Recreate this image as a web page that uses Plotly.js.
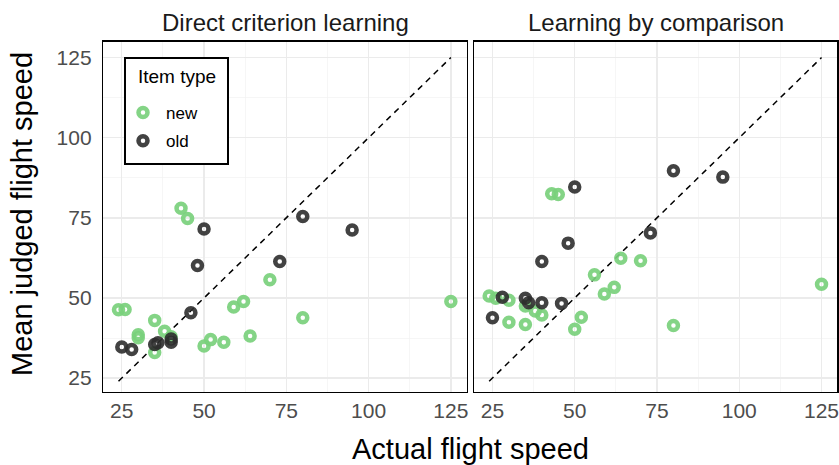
<!DOCTYPE html>
<html>
<head>
<meta charset="utf-8">
<script src="https://cdn.plot.ly/plotly-3.0.1.min.js"></script>
<style>html,body{margin:0;padding:0;background:#fff;}#chart{width:839px;height:465px;}</style>
</head>
<body>
<div id="chart"></div>
<script>
// Panel titles
var panels = ["Direct criterion learning", "Learning by comparison"];
var legendTitle = "Item type";
var tickVals = [25, 50, 75, 100, 125];
var tickText = ["25", "50", "75", "100", "125"];
var refLine = [24, 125];

// Direct criterion learning
var directNewX = [24, 26, 30, 30, 35, 35, 38, 40, 43, 45, 50, 52, 56, 59, 62, 64, 70, 80, 125];
var directNewY = [46.3, 46.4, 38.5, 37.6, 43.0, 33.0, 39.6, 37.9, 78.0, 74.8, 35.0, 37.0, 36.2, 47.2, 48.9, 38.1, 55.7, 43.8, 48.9];
var directOldX = [25, 28, 35, 36, 40, 40, 46, 48, 50, 73, 80, 95];
var directOldY = [34.7, 33.9, 35.5, 36.0, 37.2, 36.2, 45.4, 60.1, 71.5, 61.4, 75.4, 71.2];

// Learning by comparison
var compNewX = [24, 26, 30, 30, 35, 35, 38, 40, 43, 45, 50, 52, 56, 59, 62, 64, 70, 80, 125];
var compNewY = [50.6, 49.9, 49.3, 42.4, 47.5, 41.7, 45.9, 44.7, 82.5, 82.3, 40.2, 44.0, 57.2, 51.2, 53.3, 62.4, 61.6, 41.4, 54.3];
var compOldX = [25, 28, 35, 36, 40, 40, 46, 48, 50, 73, 80, 95];
var compOldY = [43.8, 50.2, 49.9, 48.5, 48.5, 61.4, 48.3, 67.1, 84.6, 70.3, 89.7, 87.7];

var greenCol = "rgba(122,208,124,0.92)";
var darkCol = "rgba(45,45,45,0.9)";

function pts(x, y, name, col, xa, ya, show) {
  return {x: x, y: y, type: "scatter", mode: "markers", name: name,
    xaxis: xa, yaxis: ya, showlegend: show, legendgroup: name,
    marker: {symbol: "circle-open", size: 9, color: col, line: {width: 4.5, color: col}},
    hoverinfo: "x+y"};
}
function line(xa, ya) {
  return {x: refLine, y: refLine, type: "scatter", mode: "lines", xaxis: xa, yaxis: ya,
    showlegend: false, line: {color: "#000", width: 1.5, dash: "6px,5px"}, hoverinfo: "skip"};
}

var data = [
  line("x", "y"), line("x2", "y2"),
  pts(directNewX, directNewY, "new", greenCol, "x", "y", true),
  pts(directOldX, directOldY, "old", darkCol, "x", "y", true),
  pts(compNewX, compNewY, "new", greenCol, "x2", "y2", false),
  pts(compOldX, compOldY, "old", darkCol, "x2", "y2", false)
];

var font = "Liberation Sans, Arial, sans-serif";
function xax(dom, anchor) {
  return {domain: dom, range: [19.4, 129.8], anchor: anchor, tickvals: tickVals, ticktext: tickText,
    showgrid: true, gridcolor: "#ebebeb", gridwidth: 1.4, zeroline: false, ticklabeloverflow: "allow",
    minor: {tickvals: [37.5, 62.5, 87.5, 112.5], showgrid: true, gridcolor: "#f2f2f2", gridwidth: 0.7},
    ticks: "", tickfont: {family: font, size: 21, color: "#4d4d4d"},
    showline: true, mirror: true, linecolor: "#000", linewidth: 1.5};
}
function yax(anchor, showlabels) {
  return {domain: [0.158, 0.910], range: [20.8, 129.9], anchor: anchor, tickvals: tickVals, ticktext: tickText,
    showticklabels: showlabels, ticklabelstandoff: 6,
    showgrid: true, gridcolor: "#ebebeb", gridwidth: 1.4, zeroline: false,
    minor: {tickvals: [37.5, 62.5, 87.5, 112.5], showgrid: true, gridcolor: "#f2f2f2", gridwidth: 0.7},
    ticks: "", tickfont: {family: font, size: 21, color: "#4d4d4d"},
    showline: true, mirror: true, linecolor: "#000", linewidth: 1.5};
}

var layout = {
  width: 839, height: 465,
  margin: {l: 0, r: 0, t: 0, b: 0},
  paper_bgcolor: "#fff", plot_bgcolor: "#fff",
  font: {family: font},
  xaxis: xax([0.1232, 0.5562], "y"),
  yaxis: yax("x", true),
  xaxis2: xax([0.565, 0.998], "y2"),
  yaxis2: yax("x2", false),
  showlegend: true,
  legend: {x: 120/839, y: 1 - 95/465, xanchor: "left", yanchor: "top",
    bgcolor: "rgba(0,0,0,0)", borderwidth: 0, itemwidth: 36,
    font: {family: font, size: 17, color: "#000"}, tracegroupgap: 3},
  shapes: [
    {type: "rect", xref: "paper", yref: "paper", x0: 125/839, x1: 228/839, y0: 1 - 164/465, y1: 1 - 58/465,
      line: {color: "#000", width: 2}, fillcolor: "#fff", layer: "above"}
  ],
  annotations: [
    {text: legendTitle, xref: "paper", yref: "paper", x: 136/839, y: 1 - 77/465, xanchor: "left", yanchor: "middle",
      showarrow: false, font: {family: font, size: 19, color: "#000"}},
    {text: panels[0], xref: "paper", yref: "paper", x: 0.3397, y: 1 - 22/465, xanchor: "center", yanchor: "middle",
      showarrow: false, font: {family: font, size: 24, color: "#1a1a1a"}},
    {text: panels[1], xref: "paper", yref: "paper", x: 0.7815, y: 1 - 22/465, xanchor: "center", yanchor: "middle",
      showarrow: false, font: {family: font, size: 24, color: "#1a1a1a"}},
    {text: "Actual flight speed", xref: "paper", yref: "paper", x: 0.561, y: 1 - 449/465, xanchor: "center", yanchor: "middle",
      showarrow: false, font: {family: font, size: 29, color: "#000"}},
    {text: "Mean judged flight speed", xref: "paper", yref: "paper", x: 22/839, y: 1 - 214/465, xanchor: "center", yanchor: "middle",
      textangle: -90, showarrow: false, font: {family: font, size: 29, color: "#000"}}
  ]
};

Plotly.newPlot("chart", data, layout, {displayModeBar: false, staticPlot: true});
</script>
</body>
</html>
